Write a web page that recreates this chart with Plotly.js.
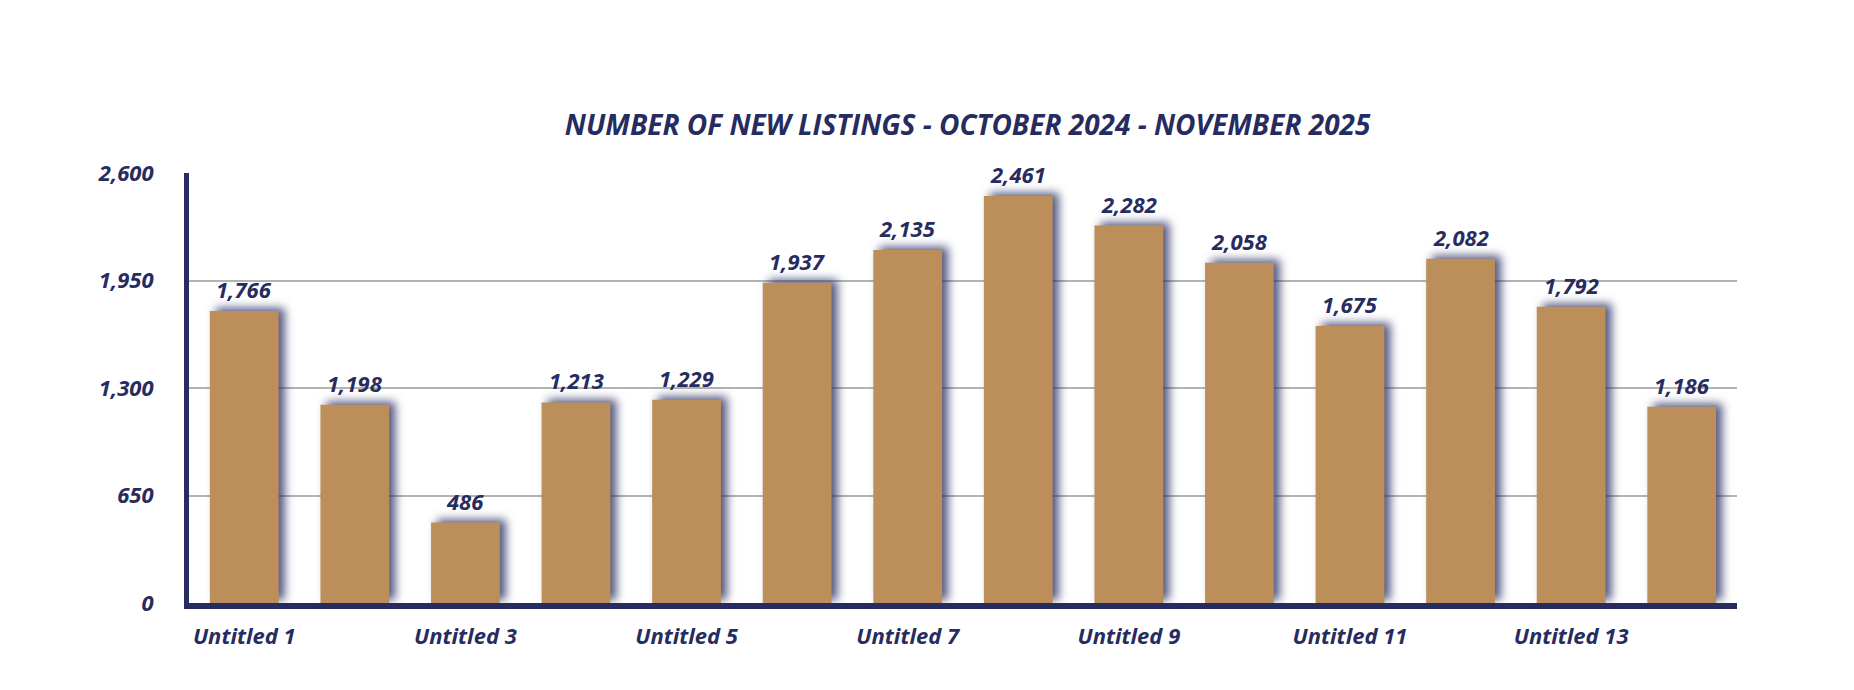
<!DOCTYPE html>
<html>
<head>
<meta charset="utf-8">
<script src="https://cdn.plot.ly/plotly-3.0.1.min.js"></script>
<style>
  html, body { margin: 0; padding: 0; background: #fff; }
  #myGraph { width: 1854px; height: 690px; }
  /* soft navy shadow behind the bars */
  #myGraph .bars .point path {
    filter: drop-shadow(6px -3px 5px rgba(38, 44, 96, 0.8));
  }
</style>
</head>
<body>
<div id="myGraph"></div>
<script>
let myGraph = document.getElementById('myGraph');

// categories and values
let categories = ["Untitled 1", "Untitled 2", "Untitled 3", "Untitled 4", "Untitled 5",
  "Untitled 6", "Untitled 7", "Untitled 8", "Untitled 9", "Untitled 10",
  "Untitled 11", "Untitled 12", "Untitled 13", "Untitled 14"];
let listings = [1766, 1198, 486, 1213, 1229, 1937, 2135, 2461, 2282, 2058, 1675, 2082, 1792, 1186];

// axis ticks
let xTickVals = ["Untitled 1", "Untitled 3", "Untitled 5", "Untitled 7", "Untitled 9", "Untitled 11", "Untitled 13"];
let yTickVals = [0, 650, 1300, 1950, 2600];
let yTickText = ["0", "650", "1,300", "1,950", "2,600"];

let navy = "#272c60";
let gold = "#bc8f5a";
let fontFamily = "'Open Sans', Lato, sans-serif";

let trace1 = {
  type: "bar",
  x: categories,
  y: listings,
  marker: { color: gold },
  hoverinfo: "x+y",
};

// value labels above the bars
let annotations = categories.map((c, i) => ({
  x: c,
  y: listings[i],
  xref: "x",
  yref: "y",
  text: listings[i].toLocaleString("en-US"),
  showarrow: false,
  yanchor: "bottom",
  yshift: 5,
  font: { family: fontFamily, size: 22, color: navy, weight: 700, style: "italic" },
}));

let layout = {
  width: 1854,
  height: 690,
  margin: { l: 189, r: 117, t: 173, b: 87 },
  paper_bgcolor: "#ffffff",
  plot_bgcolor: "#ffffff",
  showlegend: false,
  bargap: 0.378,
  title: {
    text: "NUMBER OF NEW LISTINGS - OCTOBER 2024 - NOVEMBER 2025",
    x: 0.503,
    xref: "paper",
    xanchor: "center",
    y: 1 - 125 / 690,
    yanchor: "middle",
    font: { family: fontFamily, size: 28, color: navy, weight: 700, style: "italic" },
  },
  xaxis: {
    type: "category",
    tickvals: xTickVals,
    ticktext: xTickVals,
    showgrid: false,
    showline: true,
    linecolor: navy,
    linewidth: 6,
    ticks: "",
    ticklabelstandoff: 9,
    tickfont: { family: fontFamily, size: 22, color: navy, weight: 700, style: "italic" },
    fixedrange: true,
  },
  yaxis: {
    range: [0, 2600],
    tickvals: yTickVals,
    ticktext: yTickText,
    showgrid: true,
    gridcolor: "#b3b3b3",
    gridwidth: 2,
    zeroline: false,
    showline: true,
    linecolor: navy,
    linewidth: 5,
    ticks: "",
    ticklabelstandoff: 26,
    tickfont: { family: fontFamily, size: 22, color: navy, weight: 700, style: "italic" },
    fixedrange: true,
  },
  annotations: annotations,
};

Plotly.newPlot(myGraph, [trace1], layout, { displayModeBar: false, staticPlot: true });
</script>
</body>
</html>
